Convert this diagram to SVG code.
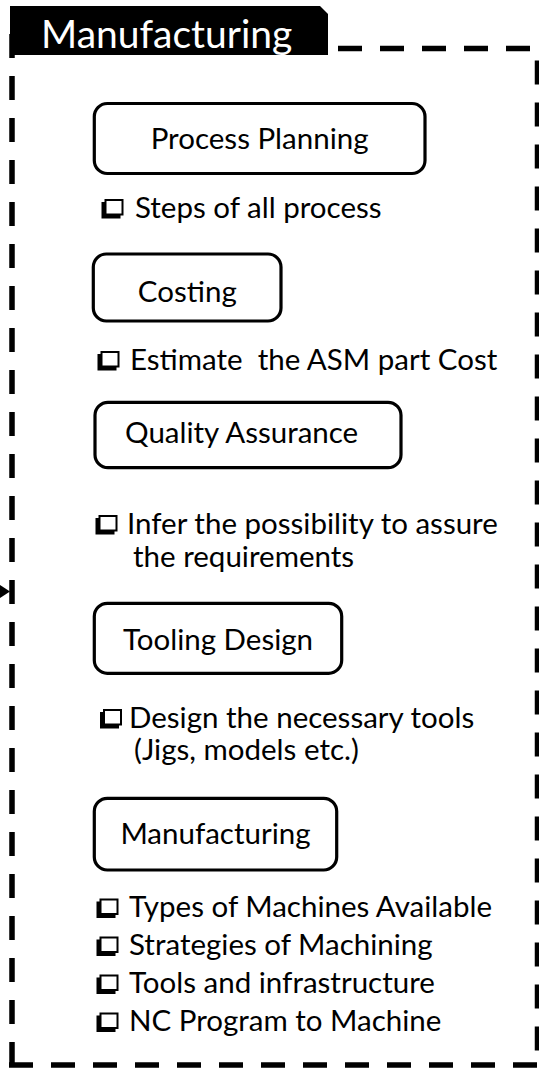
<svg xmlns="http://www.w3.org/2000/svg" width="539" height="1069" viewBox="0 0 539 1069">
  <style>
    .frame { fill: none; stroke: #000; stroke-width: 5.5; stroke-dasharray: 24 18; stroke-linecap: butt; }
    .box { fill: #fff; stroke: #000; stroke-width: 3.2; }
    .lbl { font-family: Lato, "Liberation Sans", sans-serif; font-size: 29.5px; fill: #000; }
    .mid { text-anchor: middle; }
    .title { font-family: Lato, "Liberation Sans", sans-serif; font-size: 39px; fill: #fff; }
  </style>
  <defs>
    <!-- shadowed square bullet -->
    <g id="chk">
      <rect x="0" y="3" width="19" height="16.5" fill="#000"/>
      <rect x="4" y="1" width="17" height="14.5" fill="#fff" stroke="#000" stroke-width="2"/>
    </g>
  </defs>

  <rect width="539" height="1069" fill="#fff"/>

  <!-- dashed container -->
  <g id="container">
    <path class="frame" d="M12,34 V1068"/>
    <path class="frame" d="M9,1065 H541"/>
    <path class="frame" d="M537.5,60.5 V1062"/>
    <path class="frame" d="M338,48.5 H535"/>
  </g>

  <!-- header tab -->
  <g id="header">
    <polygon points="10,6 320,6 328,14 328,55 10,55" fill="#000"/>
    <text class="title" x="41" y="48">Manufacturing</text>
  </g>

  <g id="connectors">
    <polygon points="0,585 10,591.5 0,598" fill="#000"/>
  </g>

  <g id="process-planning">
    <rect class="box" x="94.3" y="103.5" width="330.7" height="70" rx="13"/>
    <text class="lbl mid" x="259.6" y="149.3">Process Planning</text>
    <use href="#chk" x="101.5" y="199"/>
    <text class="lbl" x="135" y="217.5">Steps of all process</text>
  </g>

  <g id="costing">
    <rect class="box" x="93.3" y="254" width="187.7" height="67" rx="13"/>
    <text class="lbl mid" x="187.3" y="301.7">Costing</text>
    <use href="#chk" x="97.5" y="351"/>
    <text class="lbl" x="130" y="369.5" xml:space="preserve">Estimate  the ASM part Cost</text>
  </g>

  <g id="quality-assurance">
    <rect class="box" x="95" y="402.3" width="306" height="65.4" rx="13"/>
    <text class="lbl" x="125" y="443.3">Quality Assurance</text>
    <use href="#chk" x="95.5" y="515"/>
    <text class="lbl" x="127" y="533.5">Infer the possibility to assure</text>
    <text class="lbl" x="133" y="567">the requirements</text>
  </g>

  <g id="tooling-design">
    <rect class="box" x="94.3" y="603.3" width="247.4" height="70" rx="13"/>
    <text class="lbl mid" x="218" y="650">Tooling Design</text>
    <use href="#chk" x="100" y="709"/>
    <text class="lbl" x="129" y="727.5">Design the necessary tools</text>
    <text class="lbl" x="134" y="760">(Jigs, models etc.)</text>
  </g>

  <g id="manufacturing">
    <rect class="box" x="94.3" y="798.3" width="242.4" height="71.7" rx="13"/>
    <text class="lbl mid" x="215.5" y="844">Manufacturing</text>
    <use href="#chk" x="96.5" y="898.5"/>
    <text class="lbl" x="129" y="917">Types of Machines Available</text>
    <use href="#chk" x="96.5" y="936.5"/>
    <text class="lbl" x="129" y="955">Strategies of Machining</text>
    <use href="#chk" x="96.5" y="974.5"/>
    <text class="lbl" x="129" y="993">Tools and infrastructure</text>
    <use href="#chk" x="96.5" y="1012.5"/>
    <text class="lbl" x="129" y="1031">NC Program to Machine</text>
  </g>
</svg>
